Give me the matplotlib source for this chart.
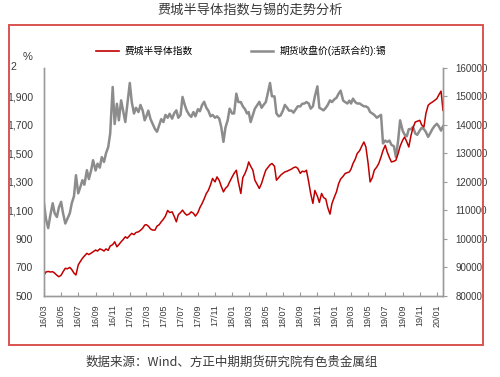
import numpy as np
import pandas as pd
import matplotlib
matplotlib.use("Agg")
import matplotlib.pyplot as plt
import matplotlib.dates as mdates
from matplotlib.lines import Line2D
from matplotlib.patches import Rectangle
from matplotlib.ticker import FuncFormatter

plt.rcParams['font.family'] = ['Liberation Sans', 'Noto Sans CJK SC', 'DejaVu Sans']

title = "费城半导体指数与锡的走势分析"
source = "数据来源：Wind、方正中期期货研究院有色贵金属组"
sox_label = "费城半导体指数"
tin_label = "期货收盘价(活跃合约):锡"

# four readings per month, Mar 2016 .. Jan 2020
months = pd.date_range("2016-03-01", "2020-01-01", freq="MS")
week_offsets = [0, 7, 15, 22]
dates = [mo + pd.Timedelta(days=d) for mo in months for d in week_offsets]

# 费城半导体指数 (left axis)
sox = [
    647, 668, 672, 668,   670, 660, 645, 635,   645, 670, 694, 690,   700, 685, 660, 647,
    717, 740, 764, 780,   799, 790, 800, 810,   822, 815, 830, 825,   815, 830, 820, 850,
    860, 880, 845, 860,   880, 895, 915, 905,   925, 939, 930, 945,   950, 960, 975, 997,
    1000, 990, 970, 962,  962, 990, 1000, 1020, 1039, 1060, 1100, 1085, 1090, 1060, 1020, 1070,
    1085, 1102, 1080, 1067, 1075, 1090, 1080, 1060, 1085, 1120, 1149, 1180, 1219, 1240, 1280, 1324,
    1300, 1335, 1310, 1270, 1230, 1255, 1270, 1300, 1335, 1360, 1382, 1300, 1219, 1330, 1360, 1395,
    1440, 1410, 1382, 1312, 1280, 1254, 1290, 1335, 1382, 1400, 1420, 1429, 1410, 1312, 1330, 1347,
    1360, 1370, 1375, 1382, 1390, 1400, 1405, 1395, 1360, 1375, 1371, 1382, 1300, 1219, 1149, 1240,
    1200, 1156, 1219, 1190, 1180, 1120, 1074, 1149, 1196, 1230, 1289, 1320, 1340, 1359, 1365, 1370,
    1390, 1429, 1460, 1499, 1520, 1550, 1580, 1545, 1429, 1300, 1330, 1382, 1405, 1430, 1475, 1520,
    1557, 1510, 1470, 1440, 1445, 1452, 1499, 1550, 1592, 1615, 1580, 1545, 1627, 1680, 1720, 1725,
    1732, 1700, 1685, 1780, 1837, 1850, 1860, 1870, 1884, 1910, 1937, 1802,
]

# 期货收盘价(活跃合约):锡 (right axis)
tin = [
    112400, 107000, 103800, 108000,  112500, 109000, 107700, 111000,  113000, 109000, 105400, 107000,
    109000, 112500, 115000, 122350,  116000, 118000, 120600, 119000,  124100, 121000, 124000, 127600,
    124000, 126400, 125000, 128700,  127000, 130000, 132200, 136900,  153300, 140300, 147400, 141600,
    148600, 145100, 141000, 147000,  154700, 148000, 144000, 146000,  144500, 147000, 145000, 141600,
    143000, 145000, 142000, 140500,  138500, 137600, 140000, 142000,  141000, 143500, 142500, 143900,
    142200, 144000, 145100, 142500,  143500, 149800, 147000, 145000,  143500, 142800, 144500, 143000,
    145500, 144800, 147000, 148100,  146000, 145000, 143000, 143500,  142500, 143000, 142200, 139300,
    134050, 139000, 141600, 145700,  144000, 144000, 150950, 148000,  148000, 146500, 145500, 144000,
    144500, 141000, 143500, 145700,  147000, 148100, 146000, 147000,  148000, 151000, 154700, 150000,
    150000, 144000, 143000, 143350,  145000, 147000, 146000, 145000,  145000, 144300, 145500, 146500,
    146500, 147400, 147500, 148000,  147500, 145700, 146500, 150000,  153500, 146000, 145500, 145100,
    146000, 147000, 148600, 148000,  149000, 149500, 151000, 152000,  148500, 148000, 147500, 148500,
    147500, 149200, 148000, 147500,  147500, 147000, 146500, 146500,  146000, 144500, 144000, 143500,
    142500, 143000, 143500, 133500,  134500, 134000, 134500, 133000,  132500, 128700, 134500, 141600,
    138000, 136600, 136000, 138500,  138500, 139300, 137000, 136500,  138000, 139000, 138500, 137500,
    135800, 137000, 138500, 139500,  140400, 139500, 138000, 139500,
]

red = "#C00000"
grey = "#8C8C8C"
axis_grey = "#9A9A9A"
text_col = "#3A3A3A"

fig = plt.figure(figsize=(5.0, 3.77), dpi=100)
ax = fig.add_axes([0.088, 0.215, 0.798, 0.605])
ax2 = ax.twinx()

ax2.plot(dates, tin, color=grey, lw=1.8)
ax.plot(dates, sox, color=red, lw=1.1)
ax.set_zorder(ax2.get_zorder() + 1)
ax.patch.set_visible(False)

ax.set_xlim(dates[0], dates[-1])
ax.set_ylim(500, 2100)
ax2.set_ylim(80000, 160000)

ax.set_yticks(np.arange(500, 2000, 200))
ax.yaxis.set_major_formatter(FuncFormatter(lambda v, p: f"{int(v):,}"))
ax2.set_yticks(np.arange(80000, 160001, 10000))

xt = pd.date_range("2016-03-01", "2020-01-01", freq="2MS")
ax.set_xticks(xt)
ax.xaxis.set_major_formatter(mdates.DateFormatter("%y/%m"))
ax.tick_params(axis='x', direction='in', length=3, color=axis_grey, pad=6,
               labelrotation=90, labelsize=6.5, labelcolor=text_col)
ax.tick_params(axis='y', length=0, pad=8, labelsize=7.5, labelcolor=text_col)
ax2.tick_params(axis='y', length=3, color=axis_grey, pad=6, labelsize=7, labelcolor=text_col)

for a in (ax, ax2):
    a.spines['top'].set_visible(False)
    for s in ('left', 'right', 'bottom'):
        a.spines[s].set_color(axis_grey)
        a.spines[s].set_linewidth(1.0)

# truncated top label and unit, placed in figure pixels
fig.text(10 / 500, 1 - 67 / 377, "2", fontsize=7.5, color=text_col, ha='left', va='center')
fig.text(28 / 500, 1 - 57 / 377, "%", fontsize=8, color=text_col, ha='center', va='center')

handles = [Line2D([], [], color=red, lw=1.2), Line2D([], [], color=grey, lw=1.8)]
fig.legend(handles, [sox_label, tin_label], loc='center', bbox_to_anchor=(0.482, 0.865),
           ncol=2, frameon=False, fontsize=7, handlelength=2.3, handletextpad=0.6,
           columnspacing=6.0)

fig.text(0.5, 0.972, title, ha='center', va='center', fontsize=9.5, color=text_col)
fig.text(0.464, 0.04, source, ha='center', va='center', fontsize=9, style='italic',
         color=text_col, family=['Noto Sans CJK SC', 'DejaVu Sans'])

fig.patches.append(Rectangle((0.017, 0.085), 0.949, 0.848, transform=fig.transFigure,
                             fill=False, edgecolor="#D9534F", lw=1.4))

fig.savefig("out.png", dpi=100)
